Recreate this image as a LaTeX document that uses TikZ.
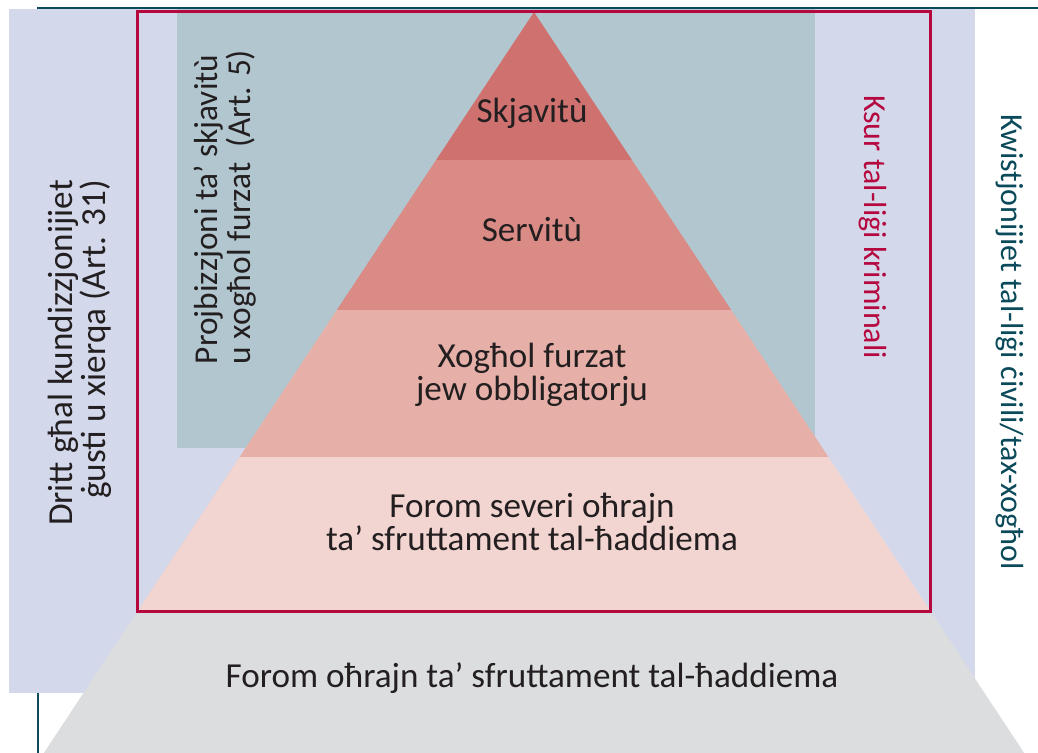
\documentclass[tikz,border=0pt]{standalone}
\usepackage{fontspec}
\setmainfont{Carlito}
\definecolor{lavender}{HTML}{D3D8EB}
\definecolor{steel}{HTML}{B2C6CF}
\definecolor{tierone}{HTML}{CF716F}
\definecolor{tiertwo}{HTML}{DA8B86}
\definecolor{tierthree}{HTML}{E6B0A9}
\definecolor{tierfour}{HTML}{F2D5D1}
\definecolor{tierfive}{HTML}{DCDDDF}
\definecolor{crimson}{HTML}{B5083F}
\definecolor{deepteal}{HTML}{0B4A5A}
\definecolor{ink}{HTML}{231F20}
\begin{document}
\begin{tikzpicture}[x=0.02cm, y=0.02cm,
  lbl/.style={align=center, inner sep=0pt, text=ink, font=\fontsize{20}{18.5}\selectfont},
  up/.style={lbl, rotate=90},
  down/.style={lbl, rotate=-90, font=\fontsize{18.2}{18}\selectfont}
]
\useasboundingbox (0,0) rectangle (1038,753);
\draw[deepteal, line width=1.3pt] (38,0) -- (38,745.2) -- (1038,745.2);
\fill[lavender] (9,60) rectangle (975,744);
\fill[steel] (177,305) rectangle (815,744);
% pyramid, bottom to top
\fill[tierfive] (43.8,0) -- (1024.2,0) -- (930.5,141.7) -- (137.5,141.7) -- cycle;
\fill[tierfour] (137.5,141.7) -- (930.5,141.7) -- (828.4,296) -- (239.6,296) -- cycle;
\fill[tierthree] (239.6,296) -- (828.4,296) -- (731.2,443) -- (336.8,443) -- cycle;
\fill[tiertwo] (336.8,443) -- (731.2,443) -- (631.9,593) -- (436.1,593) -- cycle;
\fill[tierone] (436.1,593) -- (631.9,593) -- (534,741) -- cycle;
\draw[crimson, line width=1.9pt] (137.7,141.7) rectangle (930.7,741.7);
\node[lbl] (slave) at (532,640) {Skjavitù};
\node[lbl] (serf) at (532,523) {Servitù};
\node[lbl] (forced) at (532,378) {Xogħol furzat\\jew obbligatorju};
\node[lbl] (severe) at (532,231) {Forom severi oħrajn\\ta’ sfruttament tal-ħaddiema};
\node[lbl] (other) at (532,75) {Forom oħrajn ta’ sfruttament tal-ħaddiema};
\node[up, align=right] (fair) at (80,400) {Dritt għal kundizzjonijiet\\ġusti u xierqa (Art. 31)};
\node[up, align=left, font=\fontsize{19}{18.5}\selectfont] (ban) at (225,546) {Projbizzjoni ta’ skjavitù\\u xogħol furzat\ \ (Art. 5)};
\node[down, text=crimson] (crime) at (873,526) {Ksur tal-liġi kriminali};
\node[down, text=deepteal] (civil) at (1010,411) {Kwistjonijiet tal-liġi ċivili/tax-xogħol};
\end{tikzpicture}
\end{document}
